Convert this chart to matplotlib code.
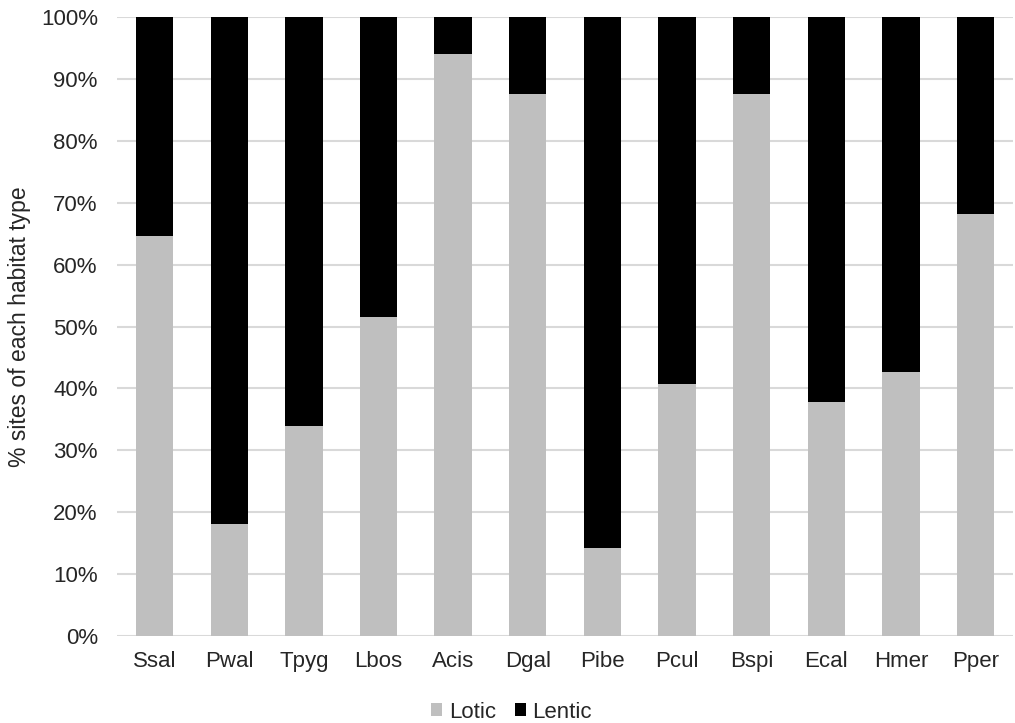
import numpy as np
import matplotlib.pyplot as plt
from matplotlib.ticker import PercentFormatter

plt.rcParams['font.family'] = ['Liberation Sans', 'DejaVu Sans']

# Species codes and % of sites per habitat type
species = ['Ssal', 'Pwal', 'Tpyg', 'Lbos', 'Acis', 'Dgal',
           'Pibe', 'Pcul', 'Bspi', 'Ecal', 'Hmer', 'Pper']
lotic = [64.6, 18.1, 33.9, 51.6, 94.0, 87.5, 14.3, 40.7, 87.5, 37.8, 42.6, 68.2]
lentic = [100 - v for v in lotic]

fig = plt.figure(figsize=(10.15, 7.23), dpi=100)
ax = fig.add_axes([0.1155, 0.1203, 0.8825, 0.8562])

x = np.arange(len(species))
ax.bar(x, lotic, width=0.5, color='#bfbfbf', label='Lotic', zorder=3)
ax.bar(x, lentic, width=0.5, bottom=lotic, color='#000000', label='Lentic', zorder=3)

ax.set_xlim(-0.5, len(species) - 0.5)
ax.set_ylim(0, 100)
ax.set_yticks(np.arange(0, 101, 10))
ax.yaxis.set_major_formatter(PercentFormatter(decimals=0))
ax.set_xticks(x)
ax.set_xticklabels(species)
ax.grid(axis='y', color='#d9d9d9', linewidth=1.5, zorder=0)
for s in ax.spines.values():
    s.set_visible(False)
ax.tick_params(axis='both', length=0, labelsize=16, colors='#262626')
ax.tick_params(axis='x', pad=11)
ax.tick_params(axis='y', pad=14)
ax.set_ylabel('% sites of each habitat type', fontsize=16.5, color='#262626', labelpad=7)

fig.legend(loc='center', bbox_to_anchor=(0.504, 0.015), ncol=2, frameon=False,
           fontsize=16, handlelength=0.5, handleheight=0.5, handletextpad=0.3,
           columnspacing=0.85, labelcolor='#262626')

fig.savefig('out.png', dpi=100)
